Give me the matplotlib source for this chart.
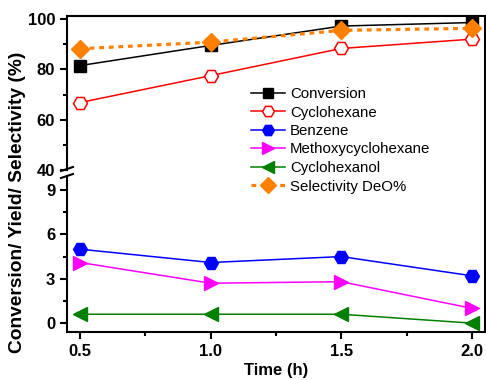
import matplotlib
matplotlib.use("Agg")
import matplotlib.pyplot as plt
from matplotlib.lines import Line2D

plt.rcParams['font.family'] = ['Liberation Sans', 'DejaVu Sans']

time_h = [0.5, 1.0, 1.5, 2.0]
conversion = [81.5, 89.5, 97.2, 98.6]
cyclohexane = [66.8, 77.5, 88.3, 92.0]
selectivity = [88.2, 90.8, 95.5, 96.3]
benzene = [5.0, 4.1, 4.5, 3.2]
methoxy = [4.1, 2.7, 2.8, 1.0]
cyclohexanol = [0.6, 0.6, 0.6, 0.0]

W, H = 486, 380
fig = plt.figure(figsize=(W / 100, H / 100), dpi=100)
left, right = 67 / W, 485 / W
ax_top = fig.add_axes([left, 1 - 170 / H, right - left, (170 - 16) / H])
ax_bot = fig.add_axes([left, 1 - 332 / H, right - left, (332 - 176) / H])

lw = 1.1
ax_top.plot(time_h, conversion, color='black', marker='s', ms=8.5, lw=lw, zorder=3)
ax_top.plot(time_h, cyclohexane, color='red', marker='H', ms=10, mfc='white',
            mec='red', mew=1.1, lw=lw, zorder=3)
ax_top.plot(time_h, selectivity, color='#FF7F00', marker='D', ms=9.5, lw=2.3,
            ls=(0, (1.5, 1.5)), zorder=4)

ax_bot.plot(time_h, benzene, color='blue', marker='H', ms=10, lw=lw)
ax_bot.plot(time_h, methoxy, color='magenta', marker='>', ms=10, lw=lw)
ax_bot.plot(time_h, cyclohexanol, color='green', marker='<', ms=10, lw=lw)

for ax in (ax_top, ax_bot):
    ax.set_xlim(0.45, 2.05)
    for s in ax.spines.values():
        s.set_linewidth(1.5)
    ax.tick_params(axis='both', which='major', direction='out', length=5, width=1.5,
                   labelsize=12)
    ax.tick_params(axis='both', which='minor', direction='out', length=3, width=1.5)
    ax.tick_params(right=False, top=False)

ax_top.set_ylim(40, 101.2)
ax_top.set_yticks([40, 60, 80, 100])
ax_top.set_yticks([50, 70, 90], minor=True)
ax_top.set_xticks([])
ax_top.spines['bottom'].set_visible(False)

ax_bot.set_ylim(-0.6, 9.95)
ax_bot.set_yticks([0, 3, 6, 9])
ax_bot.set_yticks([1.5, 4.5, 7.5], minor=True)
ax_bot.set_xticks(time_h)
ax_bot.set_xticklabels(['0.5', '1.0', '1.5', '2.0'])
ax_bot.set_xticks([0.75, 1.25, 1.75], minor=True)
ax_bot.spines['top'].set_visible(False)

for lab in ax_top.get_yticklabels() + ax_bot.get_yticklabels() + ax_bot.get_xticklabels():
    lab.set_fontweight('bold')

# right spine continuous across the break
fig.add_artist(Line2D([right, right], [1 - 176 / H, 1 - 170 / H], color='black', lw=1.5,
                      transform=fig.transFigure))
# break marks on left spine
for yb in (169, 176):
    fig.add_artist(Line2D([61 / W, 73 / W], [1 - (yb + 2) / H, 1 - (yb - 2) / H],
                          color='black', lw=1.5, transform=fig.transFigure))

fig.text(18 / W, 1 - 202 / H, 'Conversion/ Yield/ Selectivity (%)', rotation=90,
         ha='center', va='center', fontsize=13.8, fontweight='bold')
fig.text(276 / W, 1 - 371 / H, 'Time (h)', ha='center', va='center',
         fontsize=12, fontweight='bold')

handles = [
    Line2D([], [], color='black', marker='s', ms=7, lw=lw),
    Line2D([], [], color='red', marker='H', ms=8.5, mfc='white', mec='red', mew=1.1, lw=lw),
    Line2D([], [], color='blue', marker='H', ms=8.5, lw=lw),
    Line2D([], [], color='magenta', marker='>', ms=8.5, lw=lw),
    Line2D([], [], color='green', marker='<', ms=8.5, lw=lw),
    Line2D([], [], color='#FF7F00', marker='D', ms=8, lw=2.3, ls=(0, (1.5, 1.5))),
]
labels = ['Conversion', 'Cyclohexane', 'Benzene', 'Methoxycyclohexane',
          'Cyclohexanol', 'Selectivity DeO%']
fig.legend(handles, labels, loc='upper left', bbox_to_anchor=(251 / W, 1 - 87 / H),
           frameon=False, fontsize=10.8, borderpad=0, borderaxespad=0,
           handlelength=2.25, handletextpad=0.35, labelspacing=0.3)

fig.savefig('out.png', dpi=100)
